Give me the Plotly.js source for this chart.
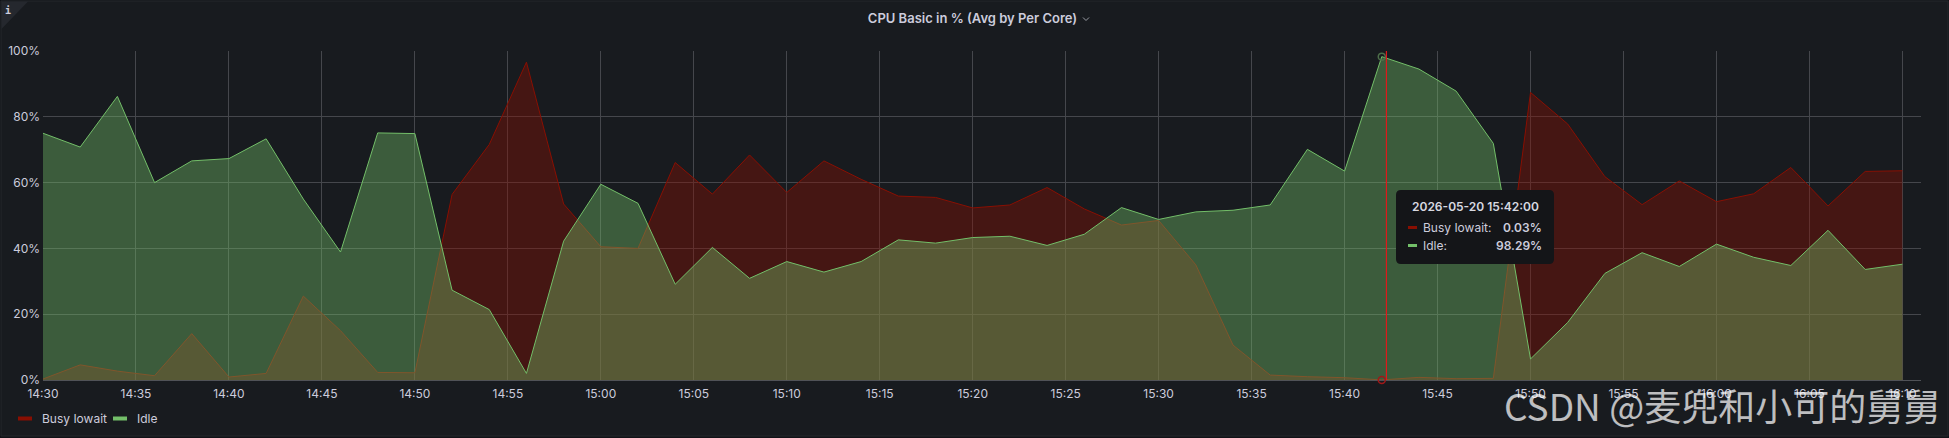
<!DOCTYPE html>
<html>
<head>
<meta charset="utf-8">
<script src="https://cdn.plot.ly/plotly-3.0.1.min.js"></script>
<style>
  html, body { margin: 0; padding: 0; background: #111217; }
  #chart { width: 1949px; height: 438px; }
</style>
</head>
<body>
<div id="chart"></div>
<script>
// ---- data -------------------------------------------------------------
const DAY = '2026-05-20';

const timeLabels = [
  '14:30','14:32','14:34','14:36','14:38','14:40','14:42','14:44','14:46','14:48',
  '14:50','14:52','14:54','14:56','14:58','15:00','15:02','15:04','15:06','15:08',
  '15:10','15:12','15:14','15:16','15:18','15:20','15:22','15:24','15:26','15:28',
  '15:30','15:32','15:34','15:36','15:38','15:40','15:42','15:44','15:46','15:48',
  '15:50','15:52','15:54','15:56','15:58','16:00','16:02','16:04','16:06','16:08',
  '16:10'
];

const busyIowait = [
  0.3, 4.6, 2.7, 1.3, 14.1, 0.9, 2.0, 25.5, 15.0, 2.3,
  2.2, 56.4, 71.6, 96.6, 53.5, 40.5, 40.0, 66.1, 56.5, 68.4,
  57.0, 66.6, 61.0, 55.9, 55.5, 52.3, 53.2, 58.5, 52.0, 47.1,
  48.5, 35.0, 10.6, 1.5, 1.0, 0.7, 0.03, 0.8, 0.4, 0.5,
  87.4, 77.8, 61.8, 53.3, 60.5, 54.2, 56.6, 64.6, 52.9, 63.4,
  63.6
];

const idle = [
  75.0, 70.8, 86.2, 60.0, 66.6, 67.3, 73.3, 55.0, 38.9, 75.1,
  74.9, 27.3, 21.4, 2.0, 42.2, 59.5, 53.7, 29.1, 40.3, 30.9,
  36.0, 32.8, 36.0, 42.6, 41.6, 43.3, 43.7, 40.9, 44.3, 52.4,
  48.8, 51.1, 51.6, 53.2, 70.1, 63.5, 98.29, 94.5, 87.8, 71.9,
  6.4, 17.5, 32.4, 38.7, 34.5, 41.3, 37.3, 34.8, 45.5, 33.6,
  35.2
];

const seriesNames = ['Busy Iowait', 'Idle'];
const yTickVals = [0, 20, 40, 60, 80, 100];
const yTickText = yTickVals.map(v => v + '%');
const hoverTime = '15:42';
const cursorTime = '15:42:15';
const panelTitle = 'CPU Basic in % (Avg by Per Core)';
const watermark = 'CSDN @麦兜和小可的舅舅';

// ---- styling ----------------------------------------------------------
const RED = '#890f02';
const RED_FILL = 'rgba(137,15,2,0.40)';
const GREEN = '#73bf69';
const GREEN_FILL = 'rgba(115,191,105,0.40)';
const TEXT = '#ccccdc';
const GRID = '#45474c';
const FONT = 'Inter, "Noto Sans", sans-serif';

const W = 1949, H = 438;
const M = { l: 43, r: 28, t: 51, b: 58 };
const PW = W - M.l - M.r, PH = H - M.t - M.b;
const px = v => (v - M.l) / PW;          // pixel -> paper x
const py = v => (H - M.b - v) / PH;      // pixel -> paper y

const xs = timeLabels.map(t => DAY + ' ' + t);
const hoverIdx = timeLabels.indexOf(hoverTime);

// ---- traces -----------------------------------------------------------
const traces = [
  {
    x: xs, y: busyIowait, name: seriesNames[0], type: 'scatter', mode: 'lines',
    line: { color: RED, width: 1 }, fill: 'tozeroy', fillcolor: RED_FILL
  },
  {
    x: xs, y: idle, name: seriesNames[1], type: 'scatter', mode: 'lines',
    line: { color: GREEN, width: 1 }, fill: 'tozeroy', fillcolor: GREEN_FILL
  },
  {
    x: [xs[hoverIdx], xs[hoverIdx]],
    y: [idle[hoverIdx], busyIowait[hoverIdx]],
    type: 'scatter', mode: 'markers', cliponaxis: false,
    marker: { symbol: 'circle-open', size: 7, color: ['#4d6e4a', '#a01818'], line: { width: 1.5 } }
  }
];

// ---- decorations ------------------------------------------------------
function roundRect(x0, y0, x1, y1, r) {
  const rx = r / PW, ry = r / PH;
  const L = px(x0), R = px(x1), T = py(y0), B = py(y1);
  return `M ${L + rx},${T} L ${R - rx},${T} Q ${R},${T} ${R},${T - ry} ` +
         `L ${R},${B + ry} Q ${R},${B} ${R - rx},${B} L ${L + rx},${B} ` +
         `Q ${L},${B} ${L},${B + ry} L ${L},${T - ry} Q ${L},${T} ${L + rx},${T} Z`;
}

const tip = { x0: 1396, y0: 190, x1: 1554, y1: 264 };

const shapes = [
  // panel
  { type: 'rect', xref: 'paper', yref: 'paper', layer: 'below',
    x0: px(1), x1: px(1948), y0: py(436), y1: py(1),
    fillcolor: '#181b1f', line: { color: '#25282d', width: 1 } },
  // info corner
  { type: 'path', xref: 'paper', yref: 'paper', layer: 'below',
    path: `M ${px(1.5)},${py(1.5)} L ${px(28)},${py(1.5)} L ${px(1.5)},${py(29)} Z`,
    fillcolor: '#25282e', line: { width: 0 } },
  // title chevron
  { type: 'path', xref: 'paper', yref: 'paper', layer: 'above',
    path: `M ${px(1083)},${py(17.5)} L ${px(1086)},${py(20.5)} L ${px(1089)},${py(17.5)}`,
    line: { color: '#9a9ca4', width: 1 } },
  // cursor line
  { type: 'line', xref: 'x', yref: 'paper', layer: 'above',
    x0: DAY + ' ' + cursorTime, x1: DAY + ' ' + cursorTime, y0: 0, y1: 1,
    line: { color: '#e0181c', width: 1.2 } },
  // tooltip box
  { type: 'path', xref: 'paper', yref: 'paper', layer: 'above',
    path: roundRect(tip.x0, tip.y0, tip.x1, tip.y1, 5),
    fillcolor: '#141518', line: { width: 0 } },
  // tooltip swatches
  { type: 'line', xref: 'paper', yref: 'paper', layer: 'above',
    x0: px(1408), x1: px(1417), y0: py(227.5), y1: py(227.5), line: { color: RED, width: 3 } },
  { type: 'line', xref: 'paper', yref: 'paper', layer: 'above',
    x0: px(1408), x1: px(1417), y0: py(245.5), y1: py(245.5), line: { color: GREEN, width: 3 } },
  // legend swatches
  { type: 'line', xref: 'paper', yref: 'paper', layer: 'above',
    x0: px(18), x1: px(32), y0: py(418.5), y1: py(418.5), line: { color: RED, width: 4 } },
  { type: 'line', xref: 'paper', yref: 'paper', layer: 'above',
    x0: px(113), x1: px(127), y0: py(418.5), y1: py(418.5), line: { color: GREEN, width: 4 } }
];

const ann = (text, x, y, xanchor, font) => ({
  text, x: px(x), y: py(y), xref: 'paper', yref: 'paper',
  xanchor, yanchor: 'middle', showarrow: false,
  font: Object.assign({ family: FONT, size: 12, color: TEXT }, font || {})
});

const annotations = [
  ann(seriesNames[0], 40, 418.5, 'left'),
  ann(seriesNames[1], 135, 418.5, 'left'),
  ann(DAY + ' ' + hoverTime + ':00', (tip.x0 + tip.x1) / 2, 206, 'center', { weight: 600, color: '#d8d9e0' }),
  ann(seriesNames[0] + ':', 1421, 227.5, 'left'),
  ann(seriesNames[1] + ':', 1421, 245.5, 'left'),
  ann(busyIowait[hoverIdx].toFixed(2) + '%', 1544, 227.5, 'right', { weight: 600 }),
  ann(idle[hoverIdx].toFixed(2) + '%', 1544, 245.5, 'right', { weight: 600 }),
  ann('i', 7.5, 11, 'center', { family: '"DejaVu Sans Mono", monospace', size: 10, weight: 700 }),
  ann(watermark, 1722, 405, 'center', { family: '"Noto Sans CJK SC", sans-serif', size: 37, color: 'rgba(255,255,255,0.72)' })
];

const layout = {
  width: W, height: H,
  margin: M,
  paper_bgcolor: '#111217',
  plot_bgcolor: 'rgba(0,0,0,0)',
  showlegend: false,
  hovermode: false,
  font: { family: FONT, size: 12, color: TEXT },
  title: {
    text: panelTitle,
    xref: 'container', yref: 'container',
    x: 972.5 / W, xanchor: 'center',
    y: 1 - 18 / H, yanchor: 'middle',
    font: { family: FONT, size: 13, weight: 600, color: TEXT }
  },
  xaxis: {
    type: 'date',
    range: [DAY + ' 14:30', DAY + ' 16:11'],
    tick0: DAY + ' 14:30', dtick: 5 * 60 * 1000,
    tickformat: '%H:%M',
    showgrid: true, gridcolor: GRID, gridwidth: 1,
    zeroline: false, showline: false, ticks: '',
    ticklabelstandoff: 5,
    tickfont: { family: FONT, size: 12, color: TEXT }
  },
  yaxis: {
    range: [0, 100],
    tickmode: 'array', tickvals: yTickVals, ticktext: yTickText,
    showgrid: true, gridcolor: GRID, gridwidth: 1,
    zeroline: true, zerolinecolor: '#505257', zerolinewidth: 1,
    showline: false, ticks: '',
    ticklabelstandoff: 2,
    tickfont: { family: FONT, size: 12, color: TEXT }
  },
  shapes, annotations
};

Plotly.newPlot('chart', traces, layout, { staticPlot: true, displayModeBar: false });
</script>
</body>
</html>
